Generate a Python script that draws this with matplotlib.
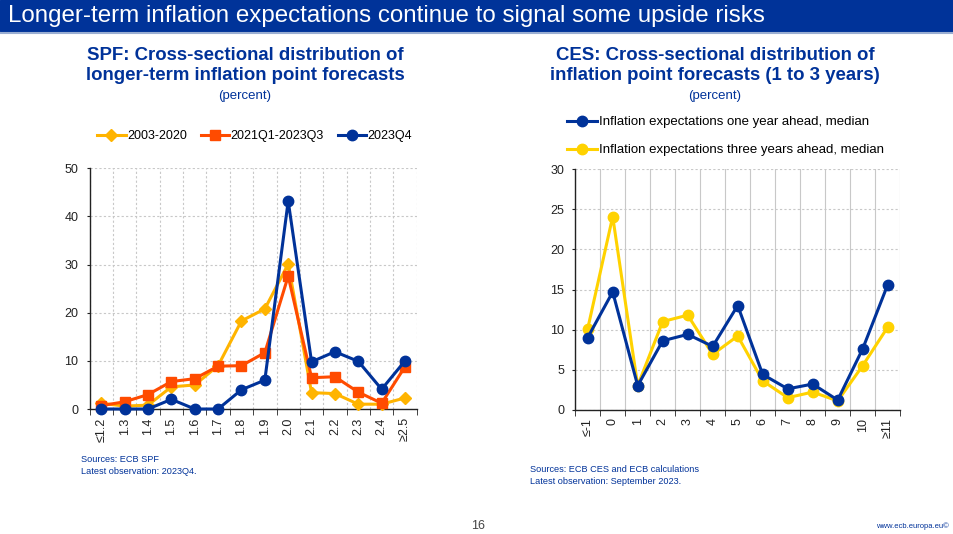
import matplotlib
matplotlib.use("Agg")
import matplotlib.pyplot as plt
from matplotlib.patches import Rectangle
from matplotlib.lines import Line2D

plt.rcParams['font.family'] = ['Liberation Sans', 'DejaVu Sans']

NAVY = '#003299'
W, H = 954, 534

# SPF data (percent of respondents)
spf_cats = ['≤1.2', '1.3', '1.4', '1.5', '1.6', '1.7', '1.8',
            '1.9', '2.0', '2.1', '2.2', '2.3', '2.4', '≥2.5']
spf_2003_2020 = [1.2, 0.6, 0.8, 4.6, 5.0, 9.0, 18.3, 20.8, 30.1, 3.4, 3.2, 1.0, 1.0, 2.3]
spf_2021_2023 = [0.7, 1.5, 3.0, 5.7, 6.3, 8.9, 9.0, 11.7, 27.6, 6.5, 6.7, 3.5, 1.2, 8.8]
spf_2023q4 = [0.0, 0.0, 0.0, 2.0, 0.0, 0.0, 4.0, 6.0, 43.2, 9.8, 11.9, 9.9, 4.1, 10.0]

# CES data
ces_cats = ['≤-1', '0', '1', '2', '3', '4', '5', '6', '7', '8', '9', '10', '≥11']
ces_1y = [9.0, 14.7, 3.0, 8.6, 9.4, 7.9, 13.0, 4.4, 2.6, 3.2, 1.2, 7.6, 15.6]
ces_3y = [10.1, 24.1, 3.0, 11.0, 11.8, 6.9, 9.2, 3.6, 1.5, 2.2, 1.1, 5.5, 10.3]


def px(x, y):
    return x / W, 1 - y / H


def box(x0, y0, x1, y1):
    return [x0 / W, 1 - y1 / H, (x1 - x0) / W, (y1 - y0) / H]


def style_axes(ax, n, ymax, ystep, vgrid_ls):
    ax.set_xlim(-0.5, n - 0.5)
    ax.set_ylim(0, ymax)
    ax.set_yticks(range(0, ymax + 1, ystep))
    ax.set_xticks([i - 0.5 for i in range(n + 1)], minor=True)
    ax.tick_params(axis='x', which='major', length=0, pad=6, labelsize=9, labelrotation=90,
                   colors='#222222')
    ax.tick_params(axis='x', which='minor', length=4, direction='out', color='#222222')
    ax.tick_params(axis='y', length=2, direction='out', labelsize=9, colors='#222222', pad=6)
    for s in ['top', 'right']:
        ax.spines[s].set_visible(False)
    for s in ['left', 'bottom']:
        ax.spines[s].set_color('#222222')
        ax.spines[s].set_linewidth(1.0)
    ax.grid(axis='y', which='major', color='#c8c8c8', ls=(0, (2, 2)), lw=0.8)
    ax.grid(axis='x', which='minor', color='#c8c8c8', ls=vgrid_ls, lw=0.8)
    ax.set_axisbelow(True)


fig = plt.figure(figsize=(W / 100, H / 100), dpi=100)

# header banner
fig.patches.append(Rectangle(px(0, 31), 1, 31 / H, transform=fig.transFigure,
                             color='#003399', zorder=0))
fig.add_artist(Line2D([0, 1], [1 - 32.5 / H] * 2, color='#9aaed2', lw=1.5))
fig.text(*px(8, 16), 'Longer-term inflation expectations continue to signal some upside risks',
         color='white', fontsize=17.4, va='center', ha='left')

# ---- left chart
ax1 = fig.add_axes(box(89.6, 168.3, 416.7, 409))
x1 = range(len(spf_cats))
ax1.plot(x1, spf_2003_2020, color='#ffb400', marker='D', ms=6, lw=2.2,
         label='2003-2020', clip_on=False, zorder=3)
ax1.plot(x1, spf_2021_2023, color='#ff4b00', marker='s', ms=7, lw=2.2,
         label='2021Q1-2023Q3', clip_on=False, zorder=4)
ax1.plot(x1, spf_2023q4, color=NAVY, marker='o', ms=7.5, lw=2.2,
         label='2023Q4', clip_on=False, zorder=5)
ax1.set_xticks(list(x1))
ax1.set_xticklabels(spf_cats)
style_axes(ax1, len(spf_cats), 50, 10, (0, (2, 2)))
ax1.legend(loc='center left', bbox_to_anchor=px(97, 136),
           bbox_transform=fig.transFigure, ncol=3, frameon=False, fontsize=9,
           handlelength=2.3, handletextpad=0.1, columnspacing=1.1, borderaxespad=0,
           borderpad=0)

fig.text(*px(245, 55), 'SPF: Cross-sectional distribution of', color=NAVY,
         fontsize=13.4, fontweight='bold', ha='center', va='center')
fig.text(*px(245, 76), 'longer-term inflation point forecasts', color=NAVY,
         fontsize=13.4, fontweight='bold', ha='center', va='center')
fig.text(*px(245, 96), '(percent)', color=NAVY, fontsize=9.5, ha='center', va='center')
fig.text(*px(81, 460), 'Sources: ECB SPF', color=NAVY, fontsize=6.6, ha='left', va='center')
fig.text(*px(81, 471), 'Latest observation: 2023Q4.', color=NAVY, fontsize=6.6,
         ha='left', va='center')

# ---- right chart
ax2 = fig.add_axes(box(575.2, 169.3, 900.2, 409.7))
x2 = range(len(ces_cats))
ax2.plot(x2, ces_1y, color=NAVY, marker='o', ms=7.5, lw=2.2,
         label='Inflation expectations one year ahead, median', clip_on=False, zorder=4)
ax2.plot(x2, ces_3y, color='#ffd200', marker='o', ms=7.5, lw=2.2,
         label='Inflation expectations three years ahead, median', clip_on=False, zorder=3)
ax2.set_xticks(list(x2))
ax2.set_xticklabels(ces_cats)
style_axes(ax2, len(ces_cats), 30, 5, '-')
ax2.legend(loc='upper left', bbox_to_anchor=px(567, 116),
           bbox_transform=fig.transFigure, ncol=1, frameon=False, fontsize=9.5,
           handlelength=2.3, handletextpad=0.1, labelspacing=1.2, borderaxespad=0,
           borderpad=0)

fig.text(*px(715, 55), 'CES: Cross-sectional distribution of', color=NAVY,
         fontsize=13.4, fontweight='bold', ha='center', va='center')
fig.text(*px(715, 76), 'inflation point forecasts (1 to 3 years)', color=NAVY,
         fontsize=13.4, fontweight='bold', ha='center', va='center')
fig.text(*px(715, 96), '(percent)', color=NAVY, fontsize=9.5, ha='center', va='center')
fig.text(*px(530, 470), 'Sources: ECB CES and ECB calculations', color=NAVY, fontsize=6.6,
         ha='left', va='center')
fig.text(*px(530, 481), 'Latest observation: September 2023.', color=NAVY, fontsize=6.6,
         ha='left', va='center')

# footer
fig.text(*px(478, 526), '16', color='#444444', fontsize=9, ha='center', va='center')
fig.text(*px(949, 526), 'www.ecb.europa.eu©', color=NAVY, fontsize=5.5, ha='right', va='center')

fig.savefig('out.png', dpi=100)
